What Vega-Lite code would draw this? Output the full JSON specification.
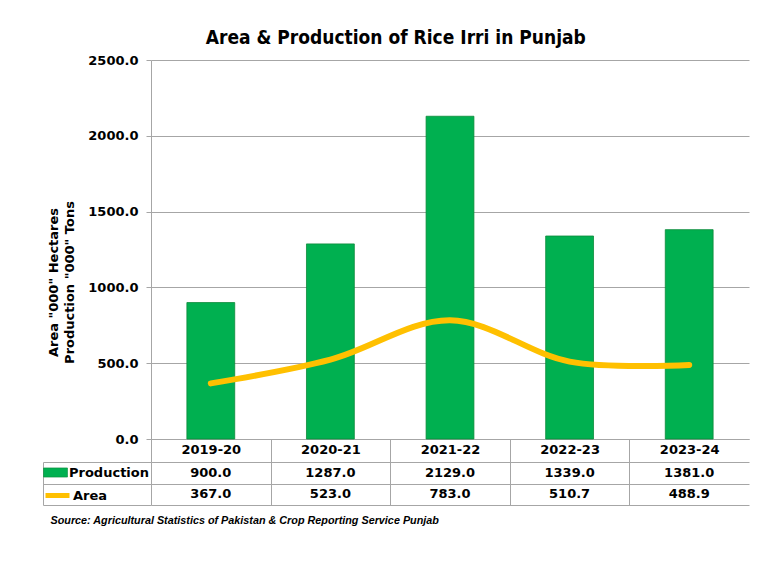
{
  "$schema": "https://vega.github.io/schema/vega-lite/v6.json",
  "background": "white",
  "padding": {"left": 42, "top": 29, "right": 5, "bottom": 5},
  "title": {
    "text": "Area & Production of Rice Irri in Punjab",
    "font": "DejaVu Sans Condensed",
    "fontSize": 19,
    "fontWeight": "bold",
    "color": "#000000",
    "anchor": "middle",
    "offset": 6
  },
  "data": {
    "values": [
      {"year": "2019-20", "Production": 900.0, "Area": 367.0},
      {"year": "2020-21", "Production": 1287.0, "Area": 523.0},
      {"year": "2021-22", "Production": 2129.0, "Area": 783.0},
      {"year": "2022-23", "Production": 1339.0, "Area": 510.7},
      {"year": "2023-24", "Production": 1381.0, "Area": 488.9}
    ]
  },
  "bounds": "flush",
  "spacing": 23,
  "resolve": {"scale": {"x": "independent", "y": "independent"}},
  "vconcat": [
    {
      "width": 598,
      "height": 379,
      "layer": [
        {
          "mark": {"type": "bar", "stroke": "#0B8A3A", "strokeWidth": 0.8},
          "encoding": {
            "x": {
              "field": "year",
              "type": "nominal",
              "sort": null,
              "scale": {"paddingInner": 0.6, "paddingOuter": 0.3},
              "axis": {
                "title": null,
                "labelAngle": 0,
                "labelFont": "DejaVu Sans",
                "labelFontSize": 13,
                "labelFontWeight": "bold",
                "labelColor": "#000000",
                "tickOffset": -59.8,
                "labelOffset": 59.8,
                "tickSize": 23,
                "tickColor": "#A6A6A6",
                "domainColor": "#A6A6A6",
                "labelPadding": -19,
                "labelBaseline": "top"
              }
            },
            "y": {
              "field": "Production",
              "type": "quantitative",
              "scale": {"domain": [0, 2500], "nice": false},
              "axis": {
                "title": ["Area \"000\" Hectares", "Production \"000\" Tons"],
                "values": [0, 500, 1000, 1500, 2000, 2500],
                "format": ".1f",
                "labelFont": "DejaVu Sans",
                "labelFontSize": 13,
                "labelFontWeight": "bold",
                "labelColor": "#000000",
                "labelPadding": 8,
                "tickSize": 5,
                "tickColor": "#A6A6A6",
                "domainColor": "#A6A6A6",
                "gridColor": "#A6A6A6",
                "titleFont": "DejaVu Sans",
                "titleFontSize": 13,
                "titleFontWeight": "bold",
                "titleColor": "#000000",
                "titleAngle": 270,
                "titleX": -98,
                "titleY": 222,
                "titleAlign": "center",
                "titleBaseline": "middle",
                "titleLineHeight": 16
              }
            },
            "fill": {
              "datum": "Production",
              "scale": {"range": ["#00B050"]},
              "legend": {
                "orient": "none",
                "legendX": -108,
                "legendY": 400,
                "title": null,
                "padding": 0,
                "symbolType": "M-1,-0.38 L1,-0.38 L1,0.38 L-1,0.38 Z",
                "symbolSize": 576,
                "symbolStrokeColor": "#0B8A3A",
                "symbolStrokeWidth": 0.6,
                "labelOffset": 1,
                "labelFont": "DejaVu Sans",
                "labelFontSize": 13,
                "labelFontWeight": "bold",
                "labelColor": "#000000"
              }
            }
          }
        },
        {
          "mark": {"type": "line", "interpolate": "cardinal", "strokeWidth": 6, "strokeCap": "round"},
          "encoding": {
            "x": {"field": "year", "type": "nominal", "sort": null},
            "y": {"field": "Area", "type": "quantitative"},
            "stroke": {
              "datum": "Area",
              "scale": {"range": ["#FFC000"]},
              "legend": {
                "orient": "none",
                "legendX": -108,
                "legendY": 421,
                "title": null,
                "padding": 0,
                "symbolType": "stroke",
                "symbolSize": 576,
                "symbolStrokeWidth": 5,
                "labelOffset": 1,
                "labelFont": "DejaVu Sans",
                "labelFontSize": 13,
                "labelFontWeight": "bold",
                "labelColor": "#000000"
              }
            }
          }
        }
      ]
    },
    {
      "width": 598,
      "height": 43,
      "title": {
        "text": "Source: Agricultural Statistics of Pakistan & Crop Reporting Service Punjab",
        "orient": "bottom",
        "anchor": "start",
        "frame": "bounds",
        "dx": 8,
        "offset": 9,
        "font": "Liberation Sans",
        "fontSize": 10.8,
        "fontStyle": "italic",
        "fontWeight": "bold",
        "color": "#000000"
      },
      "transform": [{"fold": ["Production", "Area"], "as": ["series", "value"]}],
      "mark": {"type": "text", "font": "DejaVu Sans", "fontSize": 13, "fontWeight": "bold", "color": "#000000"},
      "encoding": {
        "x": {
          "field": "year",
          "type": "nominal",
          "sort": null,
          "scale": {"paddingInner": 0, "paddingOuter": 0},
          "axis": {
            "title": null,
            "labels": false,
            "ticks": false,
            "domain": false,
            "grid": true,
            "tickOffset": -59.8,
            "gridColor": "#A6A6A6"
          }
        },
        "y": {
          "field": "series",
          "type": "nominal",
          "sort": ["Production", "Area"],
          "scale": {"paddingInner": 0, "paddingOuter": 0},
          "axis": {
            "title": null,
            "labels": false,
            "tickBand": "extent",
            "offset": 108,
            "tickSize": -108,
            "tickColor": "#A6A6A6",
            "domain": true,
            "domainColor": "#A6A6A6",
            "grid": true,
            "gridColor": "#A6A6A6"
          }
        },
        "text": {"field": "value", "type": "quantitative", "format": ".1f"}
      }
    }
  ],
  "config": {
    "view": {"stroke": null},
    "axis": {"gridWidth": 1, "domainWidth": 1, "tickWidth": 1}
  }
}
